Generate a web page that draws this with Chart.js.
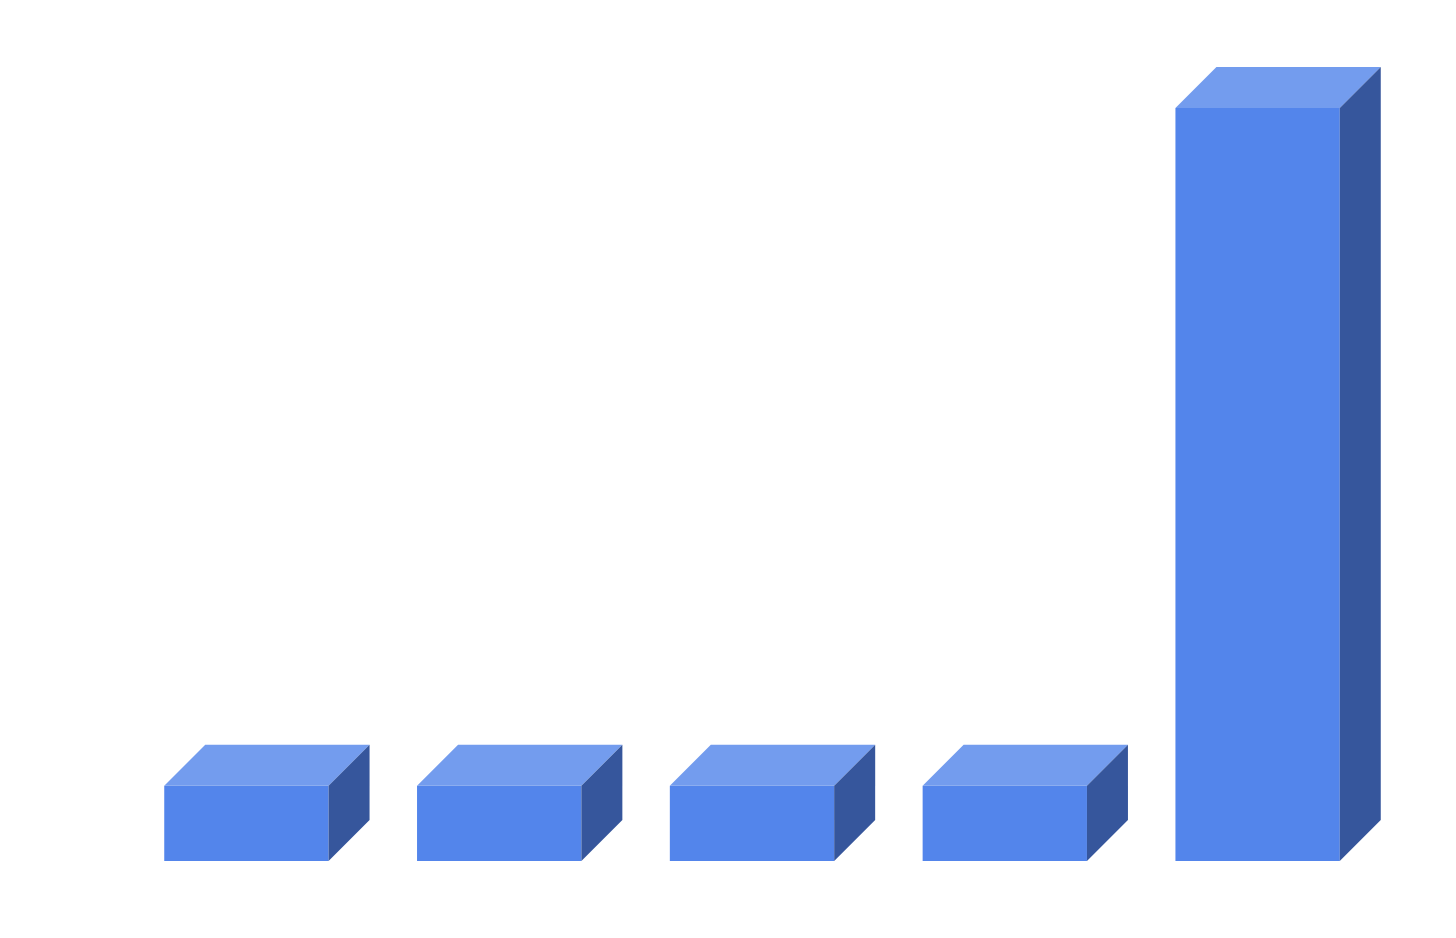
<!DOCTYPE html>
<html>
<head>
<meta charset="utf-8">
<script src="https://cdn.jsdelivr.net/npm/chart.js@4"></script>
<style>
  html, body { margin:0; padding:0; background:#fff; }
  #wrap { width:1456px; height:938px; }
</style>
</head>
<body>
<div id="wrap"><canvas id="c"></canvas></div>
<script>
const categories = ['A', 'B', 'C', 'D', 'E'];
const values = [1, 1, 1, 1, 10];

const FRONT = '#5385eb';
const TOP = '#739cee';
const SIDE = '#36569c';
const DEPTH = 41;

// draws top and right faces on each bar from the element geometry
const box3d = {
  id: 'box3d',
  afterDatasetsDraw(chart) {
    const ctx = chart.ctx;
    chart.getDatasetMeta(0).data.forEach(bar => {
      const { x, y, base, width } = bar.getProps(['x', 'y', 'base', 'width'], true);
      const l = x - width / 2, r = x + width / 2;
      ctx.save();
      ctx.fillStyle = TOP;
      ctx.beginPath();
      ctx.moveTo(l, y); ctx.lineTo(l + DEPTH, y - DEPTH);
      ctx.lineTo(r + DEPTH, y - DEPTH); ctx.lineTo(r, y);
      ctx.closePath(); ctx.fill();
      ctx.fillStyle = SIDE;
      ctx.beginPath();
      ctx.moveTo(r, y); ctx.lineTo(r + DEPTH, y - DEPTH);
      ctx.lineTo(r + DEPTH, base - DEPTH); ctx.lineTo(r, base);
      ctx.closePath(); ctx.fill();
      ctx.restore();
    });
  }
};

new Chart(document.getElementById('c'), {
  type: 'bar',
  data: {
    labels: categories,
    datasets: [{ data: values, backgroundColor: FRONT, borderWidth: 0,
                 barPercentage: 0.65, categoryPercentage: 1 }]
  },
  options: {
    responsive: true,
    maintainAspectRatio: false,
    animation: false,
    layout: { padding: { left: 120, right: 72, top: 108, bottom: 77 } },
    plugins: { legend: { display: false }, tooltip: { enabled: false } },
    scales: {
      x: { display: false },
      y: { display: false, min: 0, max: 10 }
    }
  },
  plugins: [box3d]
});
</script>
</body>
</html>
